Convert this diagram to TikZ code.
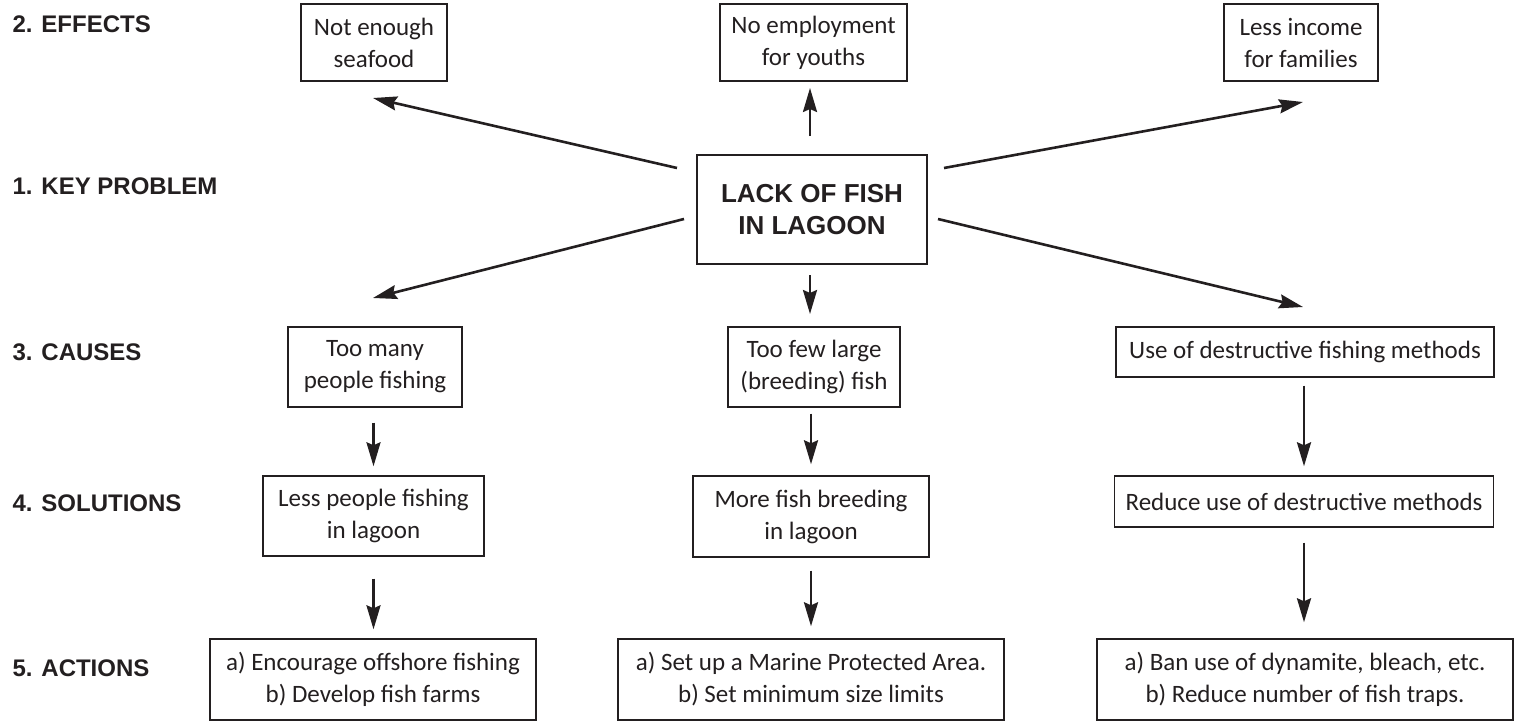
\documentclass[tikz,border=0pt]{standalone}
\usepackage{fontspec}
\setmainfont{Carlito}
\newfontfamily\headfont{Liberation Sans}
\usetikzlibrary{arrows.meta}

\definecolor{ink}{HTML}{231F20}

\begin{document}
\begin{tikzpicture}
    [
        x = 1pt, y = -1pt,
        box/.style = {draw = ink, line width = 1.4pt, text = ink, align = center, inner sep = 0pt,
                      font = \fontsize{25}{32}\selectfont},
        keybox/.style = {box, font = \headfont\bfseries\fontsize{26}{32}\selectfont},
        rowlabel/.style = {anchor = west, text = ink, font = \headfont\bfseries\fontsize{24}{28}\selectfont},
        arrow/.style = {draw = ink, line width = 2.6pt, -{Stealth[length = 24pt, width = 14pt, inset = 3pt]}}
    ]

    \useasboundingbox (0,0) rectangle (1521,723);

    % row labels
    \node[rowlabel] (lbleffects) at (9,24) {2. EFFECTS};
    \node[rowlabel] (lblkey) at (9,186) {1. KEY PROBLEM};
    \node[rowlabel] (lblcauses) at (9,352) {3. CAUSES};
    \node[rowlabel] (lblsolutions) at (9,503) {4. SOLUTIONS};
    \node[rowlabel] (lblactions) at (9,668) {5. ACTIONS};

    % key problem
    \node[keybox, minimum width = 230pt, minimum height = 109pt] (key) at (812,209.5) {LACK OF FISH\\IN LAGOON};

    % effects
    \node[box, minimum width = 146pt, minimum height = 77pt] (seafood) at (374,42.5) {Not enough\\seafood};
    \node[box, minimum width = 187pt, minimum height = 77pt] (youths) at (813.5,42.5) {No employment\\for youths};
    \node[box, minimum width = 154pt, minimum height = 77pt] (income) at (1301,42.5) {Less income\\for families};

    % causes
    \node[box, minimum width = 174pt, minimum height = 80pt] (toomany) at (375,367) {Too many\\people fishing};
    \node[box, minimum width = 172pt, minimum height = 80pt] (toofew) at (814,367) {Too few large\\(breeding) fish};
    \node[box, minimum width = 378pt, minimum height = 50pt] (destructive) at (1305,352) {Use of destructive fishing methods};

    % solutions
    \node[box, minimum width = 221pt, minimum height = 80pt] (lesspeople) at (373.5,516) {Less people fishing\\in lagoon};
    \node[box, minimum width = 236pt, minimum height = 81pt] (morebreeding) at (811,516.5) {More fish breeding\\in lagoon};
    \node[box, minimum width = 379pt, minimum height = 51pt] (reduceuse) at (1304,501.5) {Reduce use of destructive methods};

    % actions
    \node[box, minimum width = 326pt, minimum height = 81pt] (offshore) at (373,679.5) {a) Encourage offshore fishing\\b) Develop fish farms};
    \node[box, minimum width = 386pt, minimum height = 81pt] (marine) at (811,679.5) {a) Set up a Marine Protected Area.\\b) Set minimum size limits};
    \node[box, minimum width = 416pt, minimum height = 81pt] (dynamite) at (1305,679.5) {a) Ban use of dynamite, bleach, etc.\\b) Reduce number of fish traps.};

    % arrow ends
    \coordinate (keynw) at (677,168);
    \coordinate (keyn) at (810,136);
    \coordinate (keyne) at (944,168);
    \coordinate (keysw) at (684,219);
    \coordinate (keys) at (810,275);
    \coordinate (keyse) at (938,219);
    \coordinate (seafoodend) at (373,98);
    \coordinate (youthsend) at (810,88);
    \coordinate (incomeend) at (1303,102);
    \coordinate (toomanyend) at (373,298);
    \coordinate (toofewend) at (810,314);
    \coordinate (destructiveend) at (1303,307);

    \draw[arrow] (keynw) -- (seafoodend);
    \draw[arrow] (keyn) -- (youthsend);
    \draw[arrow] (keyne) -- (incomeend);
    \draw[arrow] (keysw) -- (toomanyend);
    \draw[arrow] (keys) -- (toofewend);
    \draw[arrow] (keyse) -- (destructiveend);

    \draw[arrow, shorten <= 15pt, shorten >= 9pt] (toomany.south -| lesspeople) -- (lesspeople.north);
    \draw[arrow, shorten <= 6pt, shorten >= 11pt] (toofew.south -| morebreeding) -- (morebreeding.north);
    \draw[arrow, shorten <= 8pt, shorten >= 9pt] (destructive.south -| reduceuse) -- (reduceuse.north);

    \draw[arrow, shorten <= 22pt, shorten >= 9pt] (lesspeople.south) -- (lesspeople.south |- offshore.north);
    \draw[arrow, shorten <= 13pt, shorten >= 12pt] (morebreeding.south) -- (morebreeding.south |- marine.north);
    \draw[arrow, shorten <= 15pt, shorten >= 16pt] (reduceuse.south) -- (reduceuse.south |- dynamite.north);
\end{tikzpicture}
\end{document}
